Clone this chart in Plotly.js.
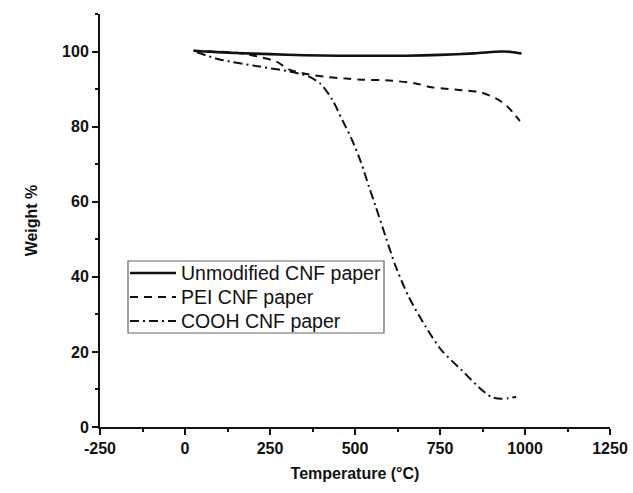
<!DOCTYPE html>
<html>
<head>
<meta charset="utf-8">
<script src="https://cdn.plot.ly/plotly-3.0.1.min.js"></script>
<style>html,body{margin:0;padding:0;background:#fff;}#chart{width:633px;height:493px;}</style>
</head>
<body>
<div id="chart"></div>
<script>
const unmodT = [25, 60, 150, 250, 350, 450, 550, 650, 750, 850, 930, 960, 990];
const unmodW = [100.2, 100.0, 99.6, 99.3, 99.0, 98.9, 98.9, 98.9, 99.1, 99.5, 100.0, 99.9, 99.5];
const peiT = [25, 80, 152, 213, 269, 307, 365, 420, 474, 521, 600, 678, 725, 766, 813, 871, 921, 950, 985];
const peiW = [100.2, 100.0, 99.7, 98.7, 97.3, 95.2, 93.9, 93.2, 92.8, 92.5, 92.3, 91.5, 90.5, 90.1, 89.7, 89.1, 87.2, 85.2, 81.5];
const coohT = [35, 102, 219, 307, 365, 400, 433, 462, 491, 518, 541, 561, 590, 620, 658, 708, 754, 813, 863, 901, 930, 974];
const coohW = [99.8, 97.9, 96.0, 94.7, 93.3, 91.3, 87.2, 81.9, 76.5, 70.4, 64.0, 58.7, 50.7, 42.7, 34.7, 26.7, 20.5, 15.2, 10.7, 8.0, 7.5, 8.0];
const names = ["Unmodified CNF paper", "PEI CNF paper", "COOH CNF paper"];
const xTicks = [-250, 0, 250, 500, 750, 1000, 1250];
const xTickText = ["-250", "0", "250", "500", "750", "1000", "1250"];
const yTicks = [0, 20, 40, 60, 80, 100];

const dashes = ["solid", "8px,6px", "9px,4px,2px,4px"];
const widths = [2.6, 2, 2];
const series = [[unmodT, unmodW], [peiT, peiW], [coohT, coohW]];

const traces = series.map((s, i) => ({
  x: s[0], y: s[1], name: names[i], mode: "lines", showlegend: false,
  line: {color: "#111", width: widths[i], dash: dashes[i], shape: "spline", smoothing: 0.8}
}));

const fam = "Liberation Sans, Arial, sans-serif";
const axisFont = {family: fam, size: 16, color: "#111", weight: 700};

// custom legend box (paper coords)
const plotL = 100, plotW = 510, plotT = 14, plotH = 413;
const px = v => (v - plotL) / plotW;
const py = v => (plotT + plotH - v) / plotH;
const legL = 128, legR = 384, legT = 261, legB = 333;
const rowY = [273, 297, 321];

const shapes = [{
  type: "rect", xref: "paper", yref: "paper",
  x0: px(legL), x1: px(legR), y0: py(legB), y1: py(legT),
  line: {color: "#666", width: 1.2}, fillcolor: "rgba(0,0,0,0)"
}];
const annotations = [];
rowY.forEach((y, i) => {
  shapes.push({
    type: "line", xref: "paper", yref: "paper",
    x0: px(130), x1: px(176), y0: py(y), y1: py(y),
    line: {color: "#111", width: widths[i], dash: dashes[i]}
  });
  annotations.push({
    xref: "paper", yref: "paper", x: px(179), y: py(y), xanchor: "left", yanchor: "middle",
    text: names[i], showarrow: false,
    font: {family: fam, size: 19.5, color: "#111"}
  });
});

const layout = {
  width: 633, height: 493,
  margin: {l: 100, r: 23, t: 14, b: 66},
  paper_bgcolor: "#fff", plot_bgcolor: "#fff",
  showlegend: false,
  shapes: shapes, annotations: annotations,
  xaxis: {
    range: [-250, 1250], tickvals: xTicks, ticktext: xTickText.map(t => "<b>" + t + "</b>"),
    showgrid: false, zeroline: false, showline: true, linecolor: "#111", linewidth: 2,
    ticks: "outside", ticklen: 6, tickwidth: 2, tickcolor: "#111",
    minor: {dtick: 125, tick0: -250, ticks: "outside", ticklen: 3, tickwidth: 2, tickcolor: "#111", showgrid: false},
    tickfont: axisFont,
    title: {text: "<b>Temperature (°C)</b>", font: axisFont, standoff: 12}
  },
  yaxis: {
    range: [0, 110], tickvals: yTicks, ticktext: yTicks.map(t => "<b>" + t + "</b>"),
    showgrid: false, zeroline: false, showline: true, linecolor: "#111", linewidth: 2,
    ticks: "outside", ticklen: 6, tickwidth: 2, tickcolor: "#111",
    minor: {dtick: 10, tick0: 0, ticks: "outside", ticklen: 3, tickwidth: 2, tickcolor: "#111", showgrid: false},
    tickfont: axisFont,
    title: {text: "<b>Weight %</b>", font: axisFont, standoff: 20}
  }
};

Plotly.newPlot("chart", traces, layout, {displayModeBar: false, staticPlot: true});
</script>
</body>
</html>
